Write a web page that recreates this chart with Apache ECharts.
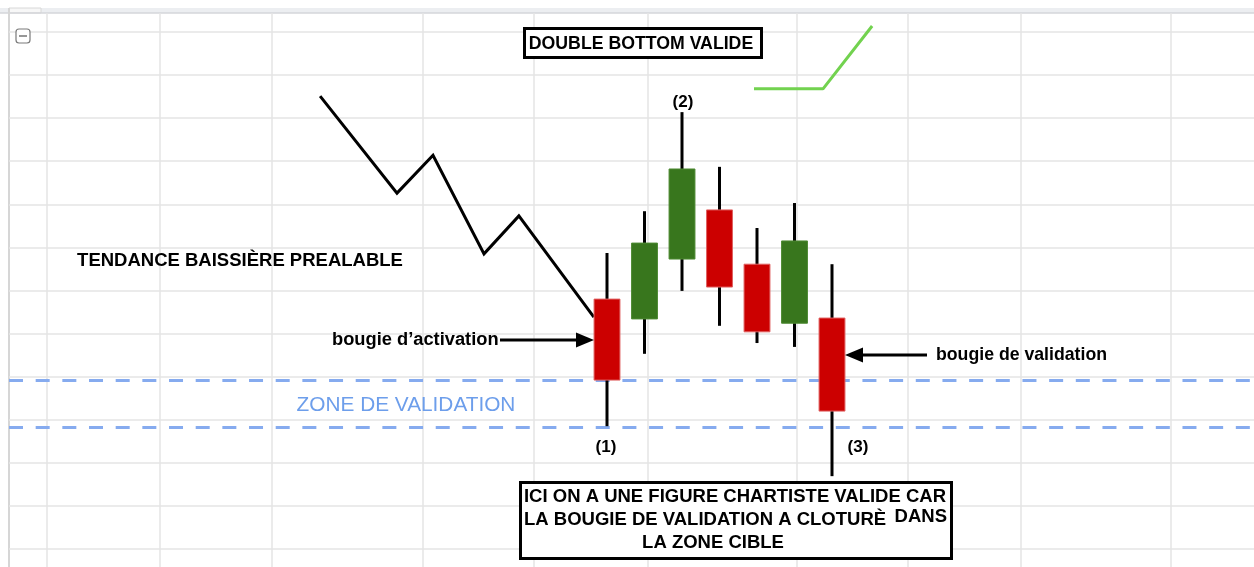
<!DOCTYPE html>
<html>
<head>
<meta charset="utf-8">
<script src="https://cdn.jsdelivr.net/npm/echarts@6/dist/echarts.min.js"></script>
<style>
html, body { margin: 0; padding: 0; background: #fff; }
#chart { width: 1254px; height: 567px; }
</style>
</head>
<body>
<div id="chart"></div>
<script>
// candles, x = candle slot, y = price (one sheet row = 10)
const candleSlot  = [0, 1, 2, 3, 4, 5, 6];
const candleOpen  = [58.0, 53.4, 67.3, 78.7, 66.1, 52.4, 53.6];
const candleClose = [39.2, 71.0, 88.2, 60.8, 50.4, 71.5, 32.0];
const candleLow   = [28.5, 45.3, 59.9, 51.8, 47.8, 46.9, 16.9];
const candleHigh  = [68.7, 78.4, 101.4, 88.7, 74.5, 80.3, 66.1];

// prior downtrend
const trendX = [-7.65, -5.6, -4.64, -3.28, -2.35, -0.35];
const trendY = [105.1, 82.6, 91.4, 68.5, 77.3, 53.8];

// green breakout sketch
const breakX = [3.92, 5.76, 7.07];
const breakY = [106.8, 106.8, 121.4];

// validation zone
const zoneTop = 39.2;
const zoneBottom = 28.3;

// sheet rows (price grid)
const sheetRows = [0, 10, 20, 30, 40, 50, 60, 70, 80, 90, 100, 110, 120];

// layout
const W = 1254, H = 567;
const sheetLeft = 9;
const slotPx = 37.5, firstSlotPx = 607;
const rowPx = 43.08, topRowPx = 32;
const sheetCols = [47, 160, 272, 423, 534, 648, 797, 908, 1021, 1171];

const xMin = (sheetLeft - firstSlotPx) / slotPx;
const xMax = (W - firstSlotPx) / slotPx;
const yMax = 120 + topRowPx / rowPx * 10;
const yMin = 120 - (H - topRowPx) / rowPx * 10;

const candleData = candleSlot.map((s, i) => [s, candleOpen[i], candleClose[i], candleLow[i], candleHigh[i]]);

const bold = sz => 'bold ' + sz + 'px "Liberation Sans", Arial, sans-serif';
function label(text, x, y, size, align, extra) {
    return Object.assign({
        type: 'text',
        style: { text: text, x: x, y: y, font: bold(size), fill: '#000', textAlign: align || 'center', textVerticalAlign: 'middle' }
    }, extra || {});
}

let chart = echarts.init(document.getElementById('chart'));

let bg = [];
// sheet header band and border
bg.push({ type: 'rect', shape: { x: 0, y: 8, width: W, height: 5 }, style: { fill: '#eceef1' }, z: 0 });
bg.push({ type: 'rect', shape: { x: 9, y: 8, width: 32, height: 5 }, style: { fill: '#f7f7f7', stroke: '#d8d8d8', lineWidth: 1 }, z: 0 });
bg.push({ type: 'line', shape: { x1: 0, y1: 13, x2: W, y2: 13 }, style: { stroke: '#d4d6da', lineWidth: 1.5 }, z: 0 });
bg.push({ type: 'line', shape: { x1: sheetLeft, y1: 8, x2: sheetLeft, y2: H }, style: { stroke: '#d6d6d6', lineWidth: 2 }, z: 0 });
sheetCols.forEach(x => {
    bg.push({ type: 'line', shape: { x1: x, y1: 13, x2: x, y2: H }, style: { stroke: '#e4e4e4', lineWidth: 1.5 }, z: 0 });
});
// collapse icon
bg.push({ type: 'rect', shape: { x: 16, y: 29, width: 14, height: 14, r: 3 }, style: { fill: '#fff', stroke: '#7a7a7a', lineWidth: 1.2 }, z: 5 });
bg.push({ type: 'line', shape: { x1: 19, y1: 36, x2: 27, y2: 36 }, style: { stroke: '#6a6a6a', lineWidth: 1.4 }, z: 5 });

let notes = [
    // title box
    { type: 'rect', shape: { x: 524.5, y: 28.5, width: 237, height: 29 }, style: { fill: '#fff', stroke: '#000', lineWidth: 3 } },
    label('DOUBLE BOTTOM VALIDE', 641, 44, 17.7),
    label('TENDANCE BAISSIÈRE PREALABLE', 240, 261, 18.5),
    { type: 'text', style: { text: 'ZONE DE VALIDATION', x: 406, y: 405, font: '20.8px "Liberation Sans", Arial, sans-serif', fill: '#6d9eeb', textAlign: 'center', textVerticalAlign: 'middle' } },
    // activation arrow
    label('bougie d\u2019activation', 332, 340, 18.3, 'left'),
    { type: 'line', shape: { x1: 500, y1: 340, x2: 580, y2: 340 }, style: { stroke: '#000', lineWidth: 3 } },
    { type: 'polygon', shape: { points: [[594, 340], [576, 332.5], [576, 347.5]] }, style: { fill: '#000' } },
    // validation arrow
    label('bougie de validation', 936, 355, 17.7, 'left'),
    { type: 'line', shape: { x1: 860, y1: 355, x2: 927, y2: 355 }, style: { stroke: '#000', lineWidth: 3 } },
    { type: 'polygon', shape: { points: [[845, 355], [863, 347.5], [863, 362.5]] }, style: { fill: '#000' } },
    // candle numbers
    label('(1)', 606, 447, 17),
    label('(2)', 683, 102, 17),
    label('(3)', 858, 447, 17),
    // conclusion box
    { type: 'rect', shape: { x: 520.5, y: 482.5, width: 431, height: 76 }, style: { fill: '#fff', stroke: '#000', lineWidth: 3 } },
    label('ICI ON A UNE FIGURE CHARTISTE VALIDE CAR', 735, 497, 18.5),
    label('LA BOUGIE DE VALIDATION A CLOTURÈ', 524, 520, 18.5, 'left'),
    label('DANS', 947, 517, 18.5, 'right'),
    label('LA ZONE CIBLE', 713, 543, 18.5)
];
notes.forEach(n => { n.z = 100; });

let option = {
    animation: false,
    grid: { left: sheetLeft, right: 0, top: 0, bottom: 0 },
    xAxis: { type: 'value', min: xMin, max: xMax, show: false },
    yAxis: { type: 'value', min: yMin, max: yMax, show: false },
    graphic: { elements: bg.concat(notes) },
    series: [
        {
            // sheet rows + validation zone
            type: 'line',
            data: [],
            silent: true,
            z: 1,
            markLine: {
                silent: true,
                z: 1,
                symbol: 'none',
                label: { show: false },
                animation: false,
                data: sheetRows.map(v => ({ yAxis: v, lineStyle: { color: '#e4e4e4', width: 1.5, type: 'solid' } }))
                    .concat([zoneTop, zoneBottom].map(v => ({ yAxis: v, lineStyle: { color: '#86abef', width: 3, type: [14, 12.67] } })))
            }
        },
        {
            name: 'tendance',
            type: 'line',
            data: trendX.map((x, i) => [x, trendY[i]]),
            showSymbol: false,
            symbol: 'none',
            lineStyle: { color: '#000', width: 3, join: 'miter' },
            z: 3
        },
        {
            name: 'cassure',
            type: 'line',
            data: breakX.map((x, i) => [x, breakY[i]]),
            showSymbol: false,
            symbol: 'none',
            lineStyle: { color: '#72d24f', width: 3 },
            z: 3
        },
        {
            name: 'bougies',
            type: 'custom',
            data: candleData,
            z: 10,
            renderItem: function (params, api) {
                const x = api.value(0);
                const o = api.coord([x, api.value(1)]);
                const c = api.coord([x, api.value(2)]);
                const lo = api.coord([x, api.value(3)]);
                const hi = api.coord([x, api.value(4)]);
                const w = api.size([1, 0])[0] * 0.69;
                const up = api.value(2) > api.value(1);
                return {
                    type: 'group',
                    children: [
                        { type: 'line', shape: { x1: hi[0], y1: hi[1], x2: lo[0], y2: lo[1] }, style: { stroke: '#000', lineWidth: 3 } },
                        {
                            type: 'rect',
                            shape: { x: o[0] - w / 2, y: Math.min(o[1], c[1]), width: w, height: Math.abs(o[1] - c[1]) },
                            style: { fill: up ? '#38761d' : '#cc0000', stroke: up ? '#4e8a33' : '#e06060', lineWidth: 1 }
                        }
                    ]
                };
            }
        }
    ]
};

option && chart.setOption(option);
</script>
</body>
</html>
